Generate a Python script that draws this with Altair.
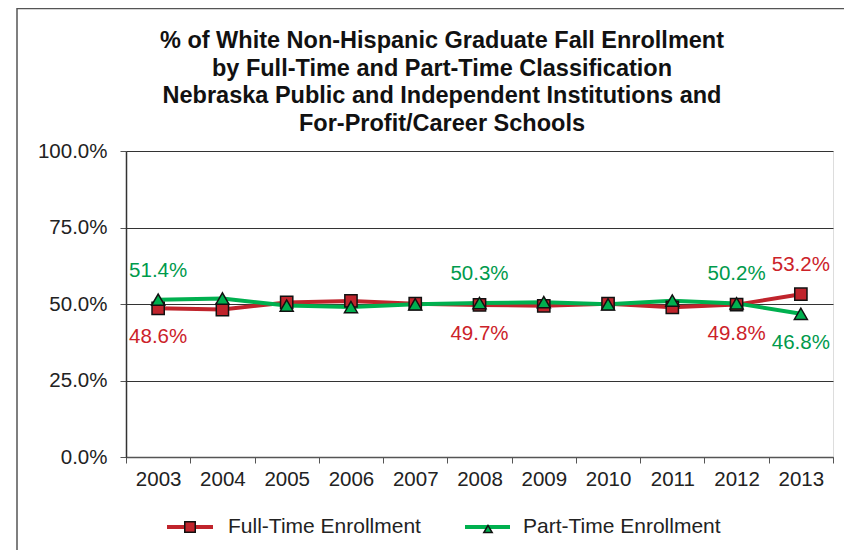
import altair as alt
import pandas as pd

# ---- data ----
years = ["2003", "2004", "2005", "2006", "2007", "2008", "2009", "2010", "2011", "2012", "2013"]
full_time = [48.6, 48.2, 50.5, 51.0, 50.1, 49.7, 49.4, 50.1, 48.9, 49.8, 53.2]
part_time = [51.4, 51.8, 49.5, 49.0, 49.9, 50.3, 50.6, 49.9, 51.1, 50.2, 46.8]
label_years = ["2003", "2008", "2012", "2013"]
series_names = ["Full-Time Enrollment", "Part-Time Enrollment"]
y_ticks = [0, 0.25, 0.5, 0.75, 1.0]
title_lines = [
    "% of White Non-Hispanic Graduate Fall Enrollment",
    "by Full-Time and Part-Time Classification",
    "Nebraska Public and Independent Institutions and",
    "For-Profit/Career Schools",
]

RED = "#C0242C"
GREEN = "#00B04F"
RED_T = "#CC2229"
GREEN_T = "#009A4C"
FONT = "Liberation Sans"
FS = 20.5

rows = []
for i, yr in enumerate(years):
    f, p = full_time[i], part_time[i]
    rows.append({"year": yr, "series": series_names[0], "value": f / 100,
                 "high": f > p, "show": yr in label_years})
    rows.append({"year": yr, "series": series_names[1], "value": p / 100,
                 "high": p > f, "show": yr in label_years})
df = pd.DataFrame(rows)

color_text = alt.Color("series:N", scale=alt.Scale(domain=series_names, range=[RED_T, GREEN_T]), legend=None)

base = alt.Chart(df).encode(
    x=alt.X("year:O", title=None, sort=years,
            scale=alt.Scale(type="band", paddingInner=0, paddingOuter=0),
            axis=alt.Axis(tickBand="extent", labelAngle=0, labelFontSize=FS, labelColor="#222",
                          labelPadding=6, tickSize=6, tickColor="#555", domainColor="#555",
                          domainWidth=1.5, grid=False, labelFont=FONT)),
    y=alt.Y("value:Q", title=None, scale=alt.Scale(domain=[0, 1], nice=False),
            axis=alt.Axis(values=y_ticks, format=".1%", labelFontSize=FS, labelColor="#222",
                          labelPadding=13, tickSize=6, tickColor="#555", domainColor="#333",
                          domainWidth=1.5, gridColor="#333", gridWidth=1, labelFont=FONT)),
)

line_full = base.transform_filter(alt.datum.series == series_names[0]).mark_line(color=RED, strokeWidth=4)
line_part = base.transform_filter(alt.datum.series == series_names[1]).mark_line(color=GREEN, strokeWidth=4)
pts_full = base.transform_filter(alt.datum.series == series_names[0]).mark_point(
    shape="square", filled=True, fill=RED, stroke="#111", strokeWidth=1.5, size=150, opacity=1)
pts_part = base.transform_filter(alt.datum.series == series_names[1]).mark_point(
    shape="triangle-up", filled=True, fill=GREEN, stroke="#111", strokeWidth=1.5, size=170, opacity=1)

lab_hi = base.transform_filter("datum.show && datum.high").mark_text(
    dy=-29, fontSize=FS, font=FONT).encode(text=alt.Text("value:Q", format=".1%"), color=color_text)
lab_lo = base.transform_filter("datum.show && !datum.high").mark_text(
    dy=29, fontSize=FS, font=FONT).encode(text=alt.Text("value:Q", format=".1%"), color=color_text)

# ---- manual legend ----
leg_df = pd.DataFrame({"name": series_names})
LY = 376
LFS = 21
leg_full = alt.Chart(leg_df).transform_filter(alt.datum.name == series_names[0])
leg_part = alt.Chart(leg_df).transform_filter(alt.datum.name == series_names[1])
legend = [
    leg_full.mark_rule(color=RED, strokeWidth=4).encode(x=alt.value(41), x2=alt.value(87), y=alt.value(LY)),
    leg_full.mark_point(shape="square", filled=True, fill=RED, stroke="#111", strokeWidth=1.5, size=110, opacity=1)
    .encode(x=alt.value(64), y=alt.value(LY)),
    leg_full.mark_text(align="left", baseline="middle", fontSize=LFS, font=FONT, color="#222")
    .encode(x=alt.value(102), y=alt.value(LY), text="name:N"),
    leg_part.mark_rule(color=GREEN, strokeWidth=4).encode(x=alt.value(339), x2=alt.value(384), y=alt.value(LY)),
    leg_part.mark_point(shape="triangle-up", filled=True, fill=GREEN, stroke="#111", strokeWidth=1.5, size=70, opacity=1)
    .encode(x=alt.value(362), y=alt.value(LY + 2)),
    leg_part.mark_text(align="left", baseline="middle", fontSize=LFS, font=FONT, color="#222")
    .encode(x=alt.value(397), y=alt.value(LY), text="name:N"),
]

# ---- title (as a text mark so that it is not pushed by the frame lines) ----
title = leg_full.mark_text(align="center", baseline="alphabetic", fontSize=23.5, fontWeight="bold",
                           font=FONT, color="#111", lineHeight=27.6).encode(
    x=alt.value(316), y=alt.value(-103), text=alt.value(title_lines))

# ---- outer frame (left and top edges visible in the reference) ----
frame = [
    leg_full.mark_rule(color="#555", strokeWidth=1.5).encode(x=alt.value(-109), y=alt.value(-143), y2=alt.value(399)),
    leg_full.mark_rule(color="#555", strokeWidth=1.5).encode(x=alt.value(-109), x2=alt.value(718), y=alt.value(-142.5)),
]

chart = alt.layer(
    line_full, line_part, pts_full, pts_part, lab_hi, lab_lo, *legend, title, *frame
).properties(
    width=707, height=306,
    autosize=alt.AutoSizeParams(type="none"),
    padding={"left": 118, "top": 143, "right": 15, "bottom": 93},
).configure_view(stroke="#888", strokeWidth=2).configure(background="white")

chart.save("out.html", embed_options={"renderer": "svg", "actions": False})
